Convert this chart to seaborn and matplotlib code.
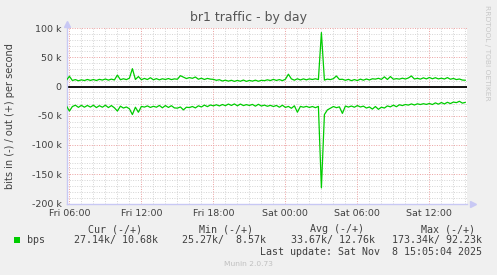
import numpy as np
import pandas as pd
import matplotlib
matplotlib.use("Agg")
import matplotlib.pyplot as plt
import seaborn as sns

# ---- data (kbit/s), one sample every 15 min starting Fri 05:45 ----
start_hour = 5.75
step_hour = 0.25
out_kbps = [
    10.5, 17.5, 10.2, 11.8, 9.8, 11.4, 10.2, 12.0, 10.4, 11.9, 10.3, 12.2, 11.0, 12.8, 10.9, 12.6, 11.2, 19.5, 11.6, 13.2,
    11.8, 14.2, 30.5, 12.0, 17.0, 11.6, 13.8, 11.9, 15.0, 11.5, 13.4, 11.4, 13.2, 12.0, 13.6, 11.8, 13.0, 12.4, 18.5, 16.0,
    13.6, 15.2, 14.0, 16.2, 12.4, 14.2, 12.0, 13.8, 12.6, 12.2, 10.6, 11.6, 9.4, 10.8, 9.2, 10.6, 8.8, 10.4, 9.0, 11.0,
    8.8, 10.4, 9.2, 10.8, 9.0, 10.6, 10.0, 11.4, 10.2, 12.2, 10.4, 11.8, 10.0, 12.4, 21.0, 13.0, 10.8, 13.2, 11.2, 13.0,
    11.4, 13.0, 12.0, 13.2, 11.8, 92.2, 11.0, 12.6, 11.8, 13.4, 18.0, 12.0, 12.4, 10.6, 12.2, 10.0, 11.8, 10.2, 12.6, 10.8,
    12.8, 11.2, 13.2, 12.6, 14.0, 12.2, 16.5, 12.0, 17.0, 12.4, 13.4, 12.6, 14.2, 12.8, 14.6, 18.0, 12.8, 14.0, 12.6, 14.8,
    13.0, 15.4, 13.2, 15.0, 13.0, 14.2, 12.8, 15.2, 12.4, 13.8, 11.8, 12.8, 11.0, 10.7,
]
in_kbps = [
    33.0, 42.0, 34.2, 32.0, 35.6, 32.2, 35.4, 32.4, 35.2, 32.0, 36.0, 32.8, 35.4, 32.0, 36.0, 32.6, 36.4, 42.0, 33.6, 36.8,
    35.0, 38.0, 48.0, 35.4, 44.0, 34.0, 35.2, 33.2, 35.8, 33.8, 35.4, 32.4, 36.4, 32.6, 35.8, 32.8, 36.6, 37.0, 35.0, 40.0,
    35.4, 36.0, 34.2, 36.6, 33.0, 35.0, 31.8, 34.4, 31.6, 33.0, 31.2, 33.2, 30.8, 32.8, 30.0, 32.4, 29.8, 33.0, 30.0, 32.6,
    31.0, 32.4, 30.6, 33.6, 30.4, 33.4, 31.8, 33.8, 32.2, 34.2, 32.4, 35.4, 32.0, 35.8, 34.0, 37.2, 33.0, 44.0, 34.0, 35.4,
    34.0, 35.8, 34.2, 36.2, 34.0, 173.3, 48.0, 40.0, 37.0, 34.2, 36.2, 34.8, 46.0, 33.4, 35.2, 33.4, 35.4, 32.6, 35.0, 33.6,
    36.8, 35.0, 38.6, 34.2, 39.0, 35.4, 36.8, 33.2, 34.8, 31.8, 34.6, 31.2, 32.6, 30.8, 31.8, 29.8, 31.6, 29.6, 30.8, 29.4,
    30.6, 29.0, 30.8, 28.0, 30.2, 27.4, 29.8, 27.0, 29.2, 26.6, 27.6, 25.3, 28.4, 27.1,
]
x_ticks_hours = [6, 12, 18, 24, 30, 36]
x_tick_labels = ["Fri 06:00", "Fri 12:00", "Fri 18:00", "Sat 00:00", "Sat 06:00", "Sat 12:00"]
y_ticks = [-200000, -150000, -100000, -50000, 0, 50000, 100000]
stat_headers = ["Cur (-/+)", "Min (-/+)", "Avg (-/+)", "Max (-/+)"]
stat_in = ["27.14k", "25.27k", "33.67k", "173.34k"]
stat_out = ["10.68k", "8.57k", "12.76k", "92.23k"]
series_label = "bps"
title = "br1 traffic - by day"
ylabel = "bits in (-) / out (+) per second"
last_update = "Last update: Sat Nov  8 15:05:04 2025"
footer = "Munin 2.0.73"
side_text = "RRDTOOL / TOBI OETIKER"

n = len(out_kbps)
hours = [start_hour + step_hour * i for i in range(n)]
df = pd.DataFrame({
    "hour": hours,
    "out": [v * 1000 for v in out_kbps],
    "in": [-v * 1000 for v in in_kbps],
})

sns.set_theme(style="white")
plt.rcParams["font.family"] = ["DejaVu Sans"]
plt.rcParams["axes.unicode_minus"] = False

W, H = 497, 275
fig = plt.figure(figsize=(W / 100, H / 100), dpi=100, facecolor="#F0F0F0")
L, R, T, B = 67, 467, 28, 203.5
ax = fig.add_axes([L / W, 1 - B / H, (R - L) / W, (B - T) / H])
ax.set_facecolor("white")

xmin = 5.8
xmax = xmin + (R - L) / 12.0
ax.set_xlim(xmin, xmax)
ax.set_ylim(-200000, 100000)

grid_major = "#EBA0A0"
grid_minor = "#D4D4D4"
for h in np.arange(6, 40, 1):
    if h % 6 != 0 and xmin < h < xmax:
        ax.axvline(h, color=grid_minor, lw=0.7, ls=(0, (1, 1.5)), zorder=0)
for v in np.arange(-200000, 100001, 10000):
    if v % 50000 != 0:
        ax.axhline(v, color=grid_minor, lw=0.7, ls=(0, (1, 1.5)), zorder=0)
for h in x_ticks_hours:
    ax.axvline(h, color=grid_major, lw=0.7, ls=(0, (1, 1.5)), zorder=0.5)
for v in y_ticks:
    ax.axhline(v, color=grid_major, lw=0.7, ls=(0, (1, 1.5)), zorder=0.5)
ax.axvline(xmax, color=grid_major, lw=0.7, ls=(0, (1, 1.5)), zorder=0.5)

ax.axhline(0, color="black", lw=1.3, zorder=2)

sns.lineplot(data=df, x="hour", y="out", ax=ax, color="#00CC00", lw=0.9, zorder=3)
sns.lineplot(data=df, x="hour", y="in", ax=ax, color="#00CC00", lw=0.9, zorder=3)

ax.set_xlabel("")
ax.set_ylabel(ylabel, fontsize=7, color="#404040")
ax.yaxis.set_label_coords((15 - L) / (R - L), 0.5)
ax.set_xticks(x_ticks_hours)
ax.set_xticklabels(x_tick_labels)
ax.set_yticks(y_ticks)
ax.set_yticklabels([("0" if v == 0 else f"{v // 1000} k") for v in y_ticks])
ax.tick_params(axis="both", labelsize=6.8, labelcolor="#404040", length=2,
               color=grid_major, pad=2, direction="out")

axis_col = "#C8C8F4"
for s in ["top", "right"]:
    ax.spines[s].set_visible(False)
for s in ["left", "bottom"]:
    ax.spines[s].set_color(axis_col)
    ax.spines[s].set_linewidth(1.0)
ax.plot([0], [1.025], marker="^", color=axis_col, ms=4, transform=ax.transAxes, clip_on=False)
ax.plot([1.015], [0], marker=">", color=axis_col, ms=4, transform=ax.transAxes, clip_on=False)

fig.text(248 / W, 1 - 18 / H, title, ha="center", va="center", fontsize=9, color="#555555")
fig.text(487 / W, 1 - 5 / H, side_text, ha="center", va="top", rotation=270,
         fontsize=5.4, color="#C8C8C8")

mono = "DejaVu Sans Mono"
tc = "#404040"
fs = 7.2
head_right = [142, 253, 364, 475]
for hdr, xr in zip(stat_headers, head_right):
    fig.text(xr / W, 1 - 229 / H, hdr, ha="right", va="center", family=mono, fontsize=fs, color=tc)

fig.patches.append(plt.Rectangle((14 / W, 1 - 243 / H), 6 / W, 6 / H, transform=fig.transFigure,
                                 facecolor="#00CC00", edgecolor="none"))
fig.text(27 / W, 1 - 240 / H, series_label, ha="left", va="center", family=mono, fontsize=fs, color=tc)
val_right = [158, 266, 375, 482]
for a, b, xr in zip(stat_in, stat_out, val_right):
    s = f"{a}/{b:>7}"
    fig.text(xr / W, 1 - 240 / H, s, ha="right", va="center", family=mono, fontsize=fs, color=tc)

fig.text(482 / W, 1 - 252 / H, last_update, ha="right", va="center", family=mono, fontsize=fs, color=tc)
fig.text(248 / W, 1 - 264 / H, footer, ha="center", va="center", fontsize=5.4, color="#C0C0C0")

fig.savefig("out.png", dpi=100, facecolor=fig.get_facecolor())
